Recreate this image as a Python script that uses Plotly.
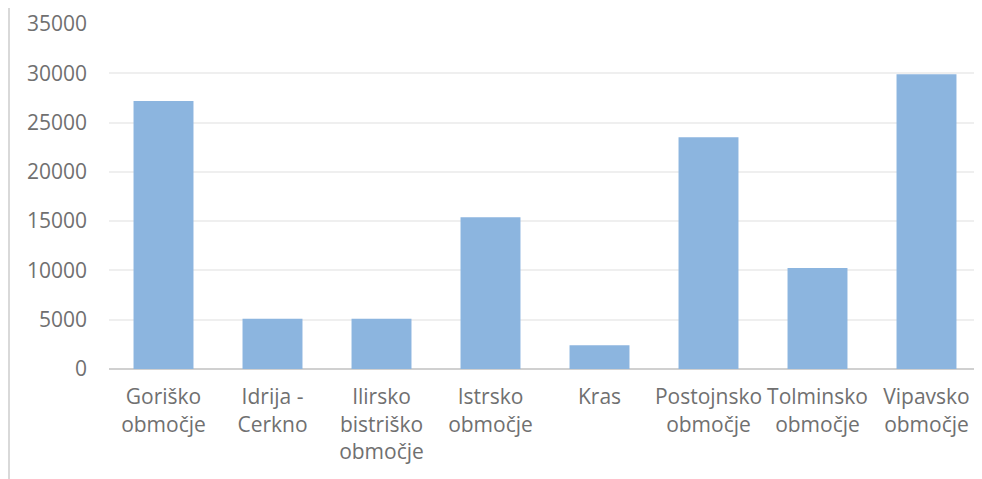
import plotly.graph_objects as go

categories = ["Goriško<br>območje", "Idrija -<br>Cerkno", "Ilirsko<br>bistriško<br>območje",
              "Istrsko<br>območje", "Kras", "Postojnsko<br>območje",
              "Tolminsko<br>območje", "Vipavsko<br>območje"]
values = [27200, 5100, 5100, 15400, 2400, 23500, 10250, 29900]

fig = go.Figure(go.Bar(x=categories, y=values, marker=dict(color="#8cb5df", line=dict(width=0))))

font = dict(family="Open Sans", size=21, color="#707070")
fig.update_layout(
    width=982, height=479,
    margin=dict(l=101, r=9, t=16, b=118, autoexpand=False),
    paper_bgcolor="white", plot_bgcolor="white",
    bargap=0.45, showlegend=False,
    font=font,
)
fig.update_xaxes(range=[-0.5, 7.5], showgrid=False, showline=False, zeroline=False, automargin=False,
                 tickfont=font, ticks="outside", ticklen=9, tickcolor="rgba(0,0,0,0)")
fig.update_yaxes(range=[0, 35000], dtick=5000, tickformat="d", showgrid=True, gridcolor="#efefef", gridwidth=1.5,
                 zeroline=True, zerolinecolor="#d0d0d0", zerolinewidth=2, automargin=False,
                 showline=False, tickfont=font, ticklabelstandoff=21)
fig.add_shape(type="line", xref="paper", yref="paper", x0=-0.1147, x1=-0.1147, y0=-0.35, y1=1.1,
              line=dict(color="#d9d9d9", width=2))
fig.write_html("out.html")
